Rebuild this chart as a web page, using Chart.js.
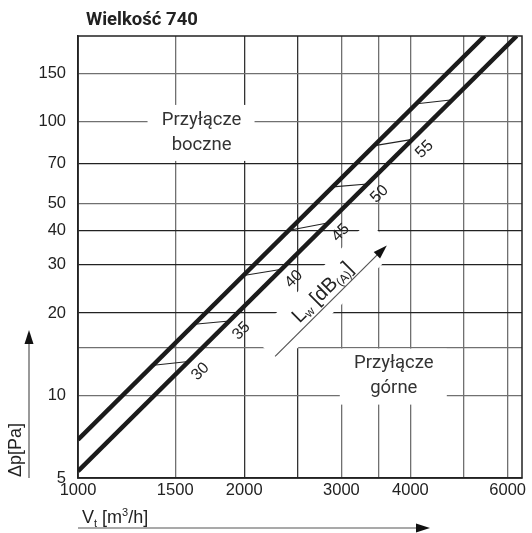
<!DOCTYPE html>
<html>
<head>
<meta charset="utf-8">
<script src="https://cdn.jsdelivr.net/npm/chart.js@4"></script>
<style>
  html, body { margin: 0; padding: 0; background: #fff; }
  canvas { display: block; }
</style>
</head>
<body>
<canvas id="chart" width="532" height="533"></canvas>
<script>
// Pressure drop lines, flow in m3/h, dp in Pa
const sideFlow = [1000, 5450];   // Przyłącze boczne
const sideDp = [6.9, 205];
const topFlow = [1000, 6230];    // Przyłącze górne
const topDp = [5.3, 205];

// Sound power links between the two lines, L_w in dB(A)
const lwLevels = [30, 35, 40, 45, 50, 55, null];
const lwSideFlow = [1370, 1625, 1995, 2415, 2895, 3445, 4110];
const lwSideDp = [12.9, 18.2, 27.4, 40.1, 57.7, 81.6, 116];
const lwTopFlow = [1585, 1880, 2340, 2845, 3345, 4035, 4770];
const lwTopDp = [13.3, 18.7, 28.9, 42.7, 59.1, 86, 120];

// Axes
const xTicks = [1000, 1500, 2000, 2500, 3000, 3500, 4000, 5000, 6000];
const xLabels = [1000, 1500, 2000, 3000, 4000, 6000];
const yTicks = [5, 10, 15, 20, 30, 40, 50, 70, 100, 150];
const yLabels = [5, 10, 20, 30, 40, 50, 70, 100, 150];
const darkX = [2000, 2500];
const darkY = [20, 30, 40, 70];

const FONT = '"Liberation Sans", Arial, sans-serif';

// Notes placed in data units
const sideNote = { flow: 1674, dp: 90.8, text: ['Przyłącze', 'boczne'] };
const topNote = { flow: 3732, dp: 11.72, text: ['Przyłącze', 'górne'] };
const lwArrow = { from: [2275, 13.9], to: [3625, 35.3] };

// Draw text made of runs [text, size, dy]
function drawRuns(ctx, runs, x, y, align) {
	let w = 0;
	for (let r of runs) {
		ctx.font = r[1] + 'px ' + FONT;
		w += ctx.measureText(r[0]).width;
	}
	let cx = align == 'center' ? x - w / 2 : x;
	ctx.textAlign = 'left';
	for (let r of runs) {
		ctx.font = r[1] + 'px ' + FONT;
		ctx.fillText(r[0], cx, y + r[2]);
		cx += ctx.measureText(r[0]).width;
	}
}

function arrow(ctx, x1, y1, x2, y2) {
	let ang = Math.atan2(y2 - y1, x2 - x1);
	ctx.save();
	ctx.strokeStyle = '#555';
	ctx.lineWidth = 1.2;
	ctx.beginPath();
	ctx.moveTo(x1, y1);
	ctx.lineTo(x2 - 10 * Math.cos(ang), y2 - 10 * Math.sin(ang));
	ctx.stroke();
	ctx.translate(x2, y2);
	ctx.rotate(ang);
	ctx.fillStyle = '#111';
	ctx.beginPath();
	ctx.moveTo(0, 0);
	ctx.lineTo(-14, -4.5);
	ctx.lineTo(-14, 4.5);
	ctx.closePath();
	ctx.fill();
	ctx.restore();
}

function arrowGeom(chart) {
	let { x, y } = chart.scales;
	let x1 = x.getPixelForValue(lwArrow.from[0]), y1 = y.getPixelForValue(lwArrow.from[1]);
	let x2 = x.getPixelForValue(lwArrow.to[0]), y2 = y.getPixelForValue(lwArrow.to[1]);
	return {
		x1, y1, x2, y2,
		mx: (x1 + x2) / 2, my: (y1 + y2) / 2,
		len: Math.hypot(x2 - x1, y2 - y1),
		ang: Math.atan2(y2 - y1, x2 - x1)
	};
}

const notes = {
	id: 'notes',
	beforeDatasetsDraw(chart) {
		let { ctx, chartArea: a, scales: { x, y } } = chart;
		ctx.save();
		ctx.fillStyle = '#fff';
		for (let n of [sideNote, topNote]) {
			let px = x.getPixelForValue(n.flow), py = y.getPixelForValue(n.dp);
			ctx.fillRect(px - 54, py - 28, 107, 56);
		}
		let g = arrowGeom(chart);
		ctx.translate(g.mx, g.my);
		ctx.rotate(g.ang);
		ctx.fillRect(-g.len / 2 - 2, -30, g.len + 6, 40);
		ctx.restore();

		// frame
		ctx.save();
		ctx.strokeStyle = '#222';
		ctx.lineWidth = 1.5;
		ctx.strokeRect(a.left, a.top, a.right - a.left, a.bottom - a.top);
		ctx.restore();
	},
	afterDatasetsDraw(chart) {
		let { ctx, chartArea: a, scales: { x, y } } = chart;
		ctx.save();
		ctx.textBaseline = 'alphabetic';

		// dB labels along the lower line
		ctx.fillStyle = '#222';
		ctx.font = '16px ' + FONT;
		ctx.textAlign = 'center';
		lwLevels.forEach((lv, i) => {
			if (lv == null) return;
			let px = x.getPixelForValue(lwTopFlow[i]), py = y.getPixelForValue(lwTopDp[i]);
			ctx.save();
			ctx.translate(px + 12, py + 10);
			ctx.rotate(-Math.PI / 4);
			ctx.textBaseline = 'middle';
			ctx.fillText(String(lv), 0, 0);
			ctx.restore();
		});

		// connection notes
		ctx.fillStyle = '#333';
		ctx.font = '18.5px Roboto, sans-serif';
		ctx.textAlign = 'center';
		ctx.textBaseline = 'middle';
		for (let n of [sideNote, topNote]) {
			let px = x.getPixelForValue(n.flow), py = y.getPixelForValue(n.dp);
			ctx.fillText(n.text[0], px, py - 13);
			ctx.fillText(n.text[1], px, py + 12);
		}

		// L_w arrow and label
		let g = arrowGeom(chart);
		arrow(ctx, g.x1, g.y1, g.x2, g.y2);
		ctx.save();
		ctx.translate(g.mx, g.my);
		ctx.rotate(g.ang);
		ctx.fillStyle = '#222';
		ctx.textBaseline = 'alphabetic';
		drawRuns(ctx, [['L', 20, 0], ['w', 12, 3], [' [dB', 20, 0], ['(A)', 12, 3], [']', 20, 0]], 0, -6, 'center');
		ctx.restore();

		// title
		ctx.fillStyle = '#222';
		ctx.textAlign = 'left';
		ctx.textBaseline = 'alphabetic';
		ctx.font = 'bold 18.5px Roboto, sans-serif';
		ctx.fillText('Wielkość 740', 86, 25);

		// axis titles
		ctx.fillStyle = '#222';
		drawRuns(ctx, [['V', 18, 0], ['t', 11, 4], [' [m', 18, 0], ['3', 11, -7], ['/h]', 18, 0]], 82, 523, 'left');
		arrow(ctx, a.left, 528, 430, 528);

		ctx.save();
		ctx.translate(21, 450);
		ctx.rotate(-Math.PI / 2);
		ctx.font = '18px ' + FONT;
		ctx.textAlign = 'center';
		ctx.fillText('Δp[Pa]', 0, 0);
		ctx.restore();
		arrow(ctx, 29, a.bottom, 29, 330);

		ctx.restore();
	}
};

function points(xs, ys) {
	return xs.map((v, i) => ({ x: v, y: ys[i] }));
}

let datasets = [
	{ data: points(sideFlow, sideDp), borderColor: '#1b1b1b', borderWidth: 4.5 },
	{ data: points(topFlow, topDp), borderColor: '#1b1b1b', borderWidth: 4.5 },
];
lwLevels.forEach((lv, i) => {
	datasets.push({
		data: [{ x: lwSideFlow[i], y: lwSideDp[i] }, { x: lwTopFlow[i], y: lwTopDp[i] }],
		borderColor: '#222',
		borderWidth: 1.1
	});
});

new Chart(document.getElementById('chart'), {
	type: 'line',
	data: { datasets },
	options: {
		responsive: false,
		animation: false,
		devicePixelRatio: 1,
		layout: { padding: { top: 36, right: 10, left: 0, bottom: 0 } },
		elements: { point: { radius: 0 }, line: { tension: 0, borderCapStyle: 'butt' } },
		plugins: { legend: { display: false }, tooltip: { enabled: false } },
		scales: {
			x: {
				type: 'logarithmic',
				min: 1000,
				max: 6370,
				afterBuildTicks: s => { s.ticks = xTicks.map(v => ({ value: v })); },
				afterFit: s => { s.height = 55; s.paddingLeft = 0; s.paddingRight = 0; },
				ticks: {
					autoSkip: false,
					maxRotation: 0,
					padding: 3,
					color: '#222',
					font: { family: FONT, size: 16.5 },
					callback: v => xLabels.includes(v) ? String(v) : ''
				},
				grid: {
					drawTicks: false,
					lineWidth: 1.3,
					color: c => darkX.includes(c.tick && c.tick.value) ? '#333' : '#707070'
				},
				border: { display: true, color: '#222', width: 1.5 }
			},
			y: {
				type: 'logarithmic',
				min: 5,
				max: 205,
				afterBuildTicks: s => { s.ticks = yTicks.map(v => ({ value: v })); },
				afterFit: s => { s.width = 78; s.paddingTop = 0; s.paddingBottom = 0; },
				ticks: {
					autoSkip: false,
					padding: 12,
					color: '#222',
					font: { family: FONT, size: 16.5 },
					callback: v => yLabels.includes(v) ? String(v) : ''
				},
				grid: {
					drawTicks: false,
					lineWidth: 1.3,
					color: c => darkY.includes(c.tick && c.tick.value) ? '#222' : '#707070'
				},
				border: { display: true, color: '#222', width: 1.5 }
			}
		}
	},
	plugins: [notes]
});
</script>
</body>
</html>
